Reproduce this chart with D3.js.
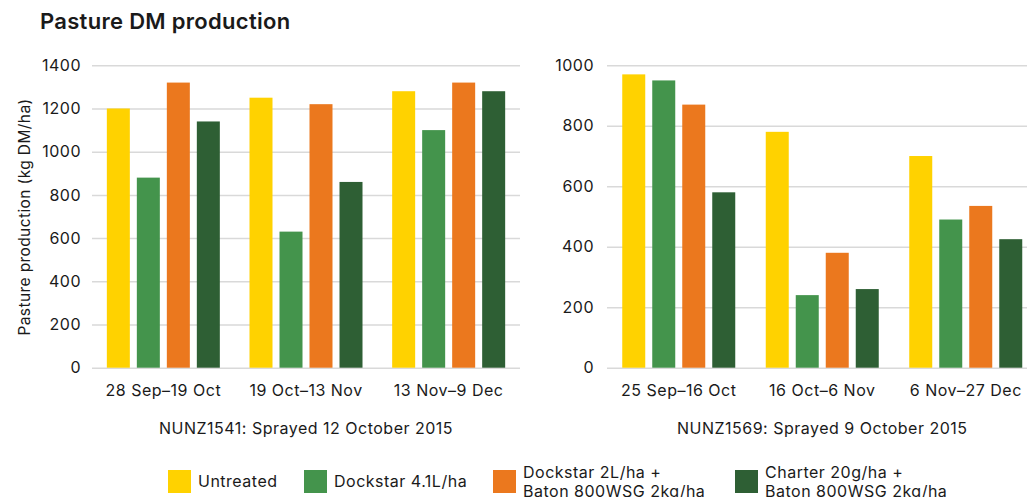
<!DOCTYPE html>
<html>
<head>
<meta charset="utf-8">
<script src="https://cdn.jsdelivr.net/npm/d3@7"></script>
<style>
  body { margin: 0; background: #fff; }
  svg text { font-family: Inter, "Liberation Sans", sans-serif; fill: #1a1a1a; letter-spacing: 0.5px; }
</style>
</head>
<body>
<div id="viz"></div>
<script>
// Series (treatments)
var series = ["Untreated", "Dockstar 4.1L/ha", "Dockstar 2L/ha +|Baton 800WSG 2kg/ha", "Charter 20g/ha +|Baton 800WSG 2kg/ha"];
var colors = ["#FFD200", "#44944C", "#EB781E", "#2E5F34"];

// NUNZ1541 trial
var leftCats = ["28 Sep\u201319 Oct", "19 Oct\u201313 Nov", "13 Nov\u20139 Dec"];
var leftUntreated = [1200, 1250, 1280];
var leftDock41 = [880, 630, 1100];
var leftDock2 = [1320, 1220, 1320];
var leftCharter = [1140, 860, 1280];
var leftTicks = [0, 200, 400, 600, 800, 1000, 1200, 1400];

// NUNZ1569 trial
var rightCats = ["25 Sep\u201316 Oct", "16 Oct\u20136 Nov", "6 Nov\u201327 Dec"];
var rightUntreated = [970, 780, 700];
var rightDock41 = [950, 240, 490];
var rightDock2 = [870, 380, 535];
var rightCharter = [580, 260, 425];
var rightTicks = [0, 200, 400, 600, 800, 1000];

var width = 1027,
    height = 497;

var svg = d3.select("#viz").append("svg")
    .attr("width", width)
    .attr("height", height);

// title
svg.append("text")
    .attr("x", 40).attr("y", 29)
    .style("font-size", "22px")
    .style("font-weight", 600)
    .style("letter-spacing", "0.3px")
    .text("Pasture DM production");

// y axis title
svg.append("text")
    .attr("transform", "translate(30,217) rotate(-90)")
    .attr("text-anchor", "middle")
    .style("font-size", "15.5px")
    .style("letter-spacing", "0.4px")
    .text("Pasture production (kg DM/ha)");

var top_y = 65.3, bottom_y = 367.7;

function drawPanel(x0, x1, cats, vals, ticks, yMax, labPad, subtitle) {
    var g = svg.append("g");

    var y = d3.scaleLinear().domain([0, yMax]).range([bottom_y, top_y]);
    var xb = d3.scaleBand().domain(cats).range([x0, x1]);
    var xs = d3.scaleBand().domain(series)
        .range([(xb.bandwidth() - 113) / 2, (xb.bandwidth() + 113) / 2])
        .paddingInner(7 / 30);

    // grid + tick labels
    var ya = g.append("g")
        .attr("transform", "translate(" + x0 + ",0)")
        .call(d3.axisLeft(y).tickValues(ticks).tickFormat(d3.format("d"))
            .tickSize(-(Math.min(x1, width) - x0)).tickPadding(labPad));
    ya.select(".domain").remove();
    ya.selectAll(".tick line").attr("stroke", "#d9d9d9").attr("stroke-width", 1.5);
    ya.selectAll(".tick text").style("font-size", "16px").style("font-family", null).attr("fill", "#1a1a1a");

    // bars
    var rows = cats.map(function(c, i) {
        return series.map(function(s, j) { return {cat: c, s: s, v: vals[j][i], col: colors[j]}; });
    });
    g.append("g").selectAll("g")
        .data(rows)
        .enter().append("g")
        .attr("transform", function(d) { return "translate(" + xb(d[0].cat) + ",0)"; })
        .selectAll("rect")
        .data(function(d) { return d; })
        .enter().append("rect")
        .attr("x", function(d) { return xs(d.s); })
        .attr("width", xs.bandwidth())
        .attr("y", function(d) { return y(d.v); })
        .attr("height", function(d) { return y(0) - y(d.v); })
        .attr("fill", function(d) { return d.col; });

    // category labels
    var xa = g.append("g")
        .attr("transform", "translate(0," + bottom_y + ")")
        .call(d3.axisBottom(xb).tickSize(0).tickPadding(17));
    xa.select(".domain").remove();
    xa.selectAll(".tick text").style("font-size", "16px").style("font-family", null).attr("fill", "#1a1a1a");

    g.append("text")
        .attr("x", (x0 + x1) / 2).attr("y", 434)
        .attr("text-anchor", "middle")
        .style("font-size", "16px")
        .text(subtitle);
}

drawPanel(92, 520, leftCats, [leftUntreated, leftDock41, leftDock2, leftCharter], leftTicks, 1400, 11,
    "NUNZ1541: Sprayed 12 October 2015");
drawPanel(607, 1037.5, rightCats, [rightUntreated, rightDock41, rightDock2, rightCharter], rightTicks, 1000, 13,
    "NUNZ1569: Sprayed 9 October 2015");

// legend
var legendX = [168, 304, 493, 735];
var leg = svg.append("g").selectAll("g")
    .data(series)
    .enter().append("g")
    .attr("transform", function(d, i) { return "translate(" + legendX[i] + ",470)"; });

leg.append("rect")
    .attr("width", 23).attr("height", 23)
    .attr("fill", function(d, i) { return colors[i]; });

leg.each(function(d) {
    var lines = d.split("|");
    var t = d3.select(this).append("text")
        .attr("x", 30)
        .style("font-size", "16px");
    lines.forEach(function(l, k) {
        t.append("tspan")
            .attr("x", 30)
            .attr("y", lines.length == 1 ? 16.7 : 8 + k * 18.5)
            .text(l);
    });
});
</script>
</body>
</html>
